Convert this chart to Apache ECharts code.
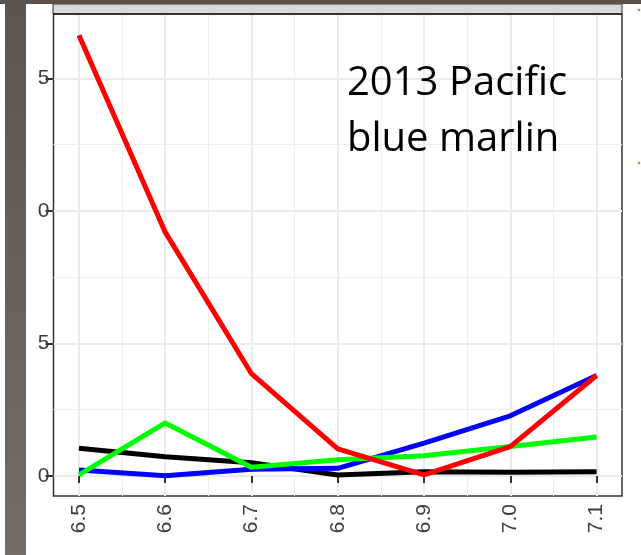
<!DOCTYPE html>
<html>
<head>
<meta charset="utf-8">
<script src="https://cdn.jsdelivr.net/npm/echarts@6/dist/echarts.min.js"></script>
<style>
html,body{margin:0;padding:0;background:#fff;}
#chart{width:641px;height:555px;}
</style>
</head>
<body>
<div id="chart"></div>
<script>
// ---- data ----
const xValues = [6.5, 6.6, 6.7, 6.8, 6.9, 7.0, 7.1];
const xTickLabels = ['6.5', '6.6', '6.7', '6.8', '6.9', '7.0', '7.1'];
const xMinorTicks = [6.55, 6.65, 6.75, 6.85, 6.95, 7.05];
const yTicks = [0, 5, 10, 15];
const yTickLabels = ['0', '5', '0', '5'];   // visible (cropped) tick text
const yMinorTicks = [2.5, 7.5, 12.5];
const seriesBlack = [1.05, 0.73, 0.50, 0.04, 0.16, 0.14, 0.16];
const seriesBlue  = [0.23, 0.01, 0.25, 0.29, 1.24, 2.27, 3.79];
const seriesGreen = [0.04, 2.00, 0.33, 0.61, 0.76, 1.11, 1.47];
const seriesRed   = [16.63, 9.20, 3.86, 1.02, 0.04, 1.11, 3.79];
const titleLines = ['2013 Pacific', 'blue marlin'];

const chart = echarts.init(document.getElementById('chart'));
const pair = arr => xValues.map((x, i) => [x, arr[i]]);
const X_MIN = 6.4705, X_MAX = 7.1295, Y_MIN = -0.755, Y_MAX = 17.43;
const labelFont = {fontFamily: 'Liberation Sans', fontSize: 21, color: '#3d3d3d'};

function line(name, data, color) {
  return {
    name, type: 'line', data: pair(data), xAxisIndex: 0, yAxisIndex: 0,
    symbol: 'none', lineStyle: {color, width: 5, join: 'round'}, z: 5
  };
}

chart.setOption({
  animation: false,
  grid: {left: 53.5, right: 19, top: 14, bottom: 59, show: true,
         borderColor: '#333333', borderWidth: 1.5, backgroundColor: '#fff'},
  xAxis: [{
    type: 'value', min: X_MIN, max: X_MAX,
    axisLine: {show: false},
    axisTick: {show: true, length: 7, lineStyle: {color: '#333', width: 2}, customValues: xValues},
    axisLabel: {...labelFont, rotate: 90, margin: 8, customValues: xValues,
                formatter: v => xTickLabels[xValues.findIndex(x => Math.abs(x - v) < 1e-6)] || ''},
    splitLine: {show: true, lineStyle: {color: '#ebebeb', width: 2}}
  }, {
    type: 'value', min: X_MIN, max: X_MAX, position: 'bottom',
    axisLine: {show: false},
    axisTick: {show: false, customValues: xMinorTicks},
    axisLabel: {show: false, customValues: xMinorTicks},
    splitLine: {show: true, lineStyle: {color: '#eeeeee', width: 1}}
  }],
  yAxis: [{
    type: 'value', min: Y_MIN, max: Y_MAX,
    axisLine: {show: false},
    axisTick: {show: true, length: 8, lineStyle: {color: '#333', width: 2}, customValues: yTicks},
    axisLabel: {...labelFont, margin: 4, customValues: yTicks,
                formatter: v => yTickLabels[yTicks.findIndex(t => Math.abs(t - v) < 1e-6)] || ''},
    splitLine: {show: true, lineStyle: {color: '#ebebeb', width: 2}}
  }, {
    type: 'value', min: Y_MIN, max: Y_MAX, position: 'left',
    axisLine: {show: false},
    axisTick: {show: false, customValues: yMinorTicks},
    axisLabel: {show: false, customValues: yMinorTicks},
    splitLine: {show: true, lineStyle: {color: '#eeeeee', width: 1}}
  }],
  series: [
    line('black', seriesBlack, '#000000'),
    line('blue', seriesBlue, '#0000ff'),
    line('green', seriesGreen, '#00ff00'),
    line('red', seriesRed, '#ff0000')
  ],
  graphic: [
    {type: 'rect', shape: {x: 53, y: 4, width: 569, height: 10}, style: {fill: '#d9d9d9', stroke: '#333', lineWidth: 1}, z: 10},
    {type: 'rect', shape: {x: 53, y: 13, width: 569, height: 2}, style: {fill: '#333'}, z: 11},
    {type: 'rect', shape: {x: 0, y: 0, width: 641, height: 4}, style: {fill: '#57524c'}, z: 12},
    {type: 'rect', shape: {x: 5, y: 0, width: 21, height: 555},
     style: {fill: new echarts.graphic.LinearGradient(0, 0, 0, 1, [{offset: 0, color: '#5a554f'}, {offset: 1, color: '#726d66'}])}, z: 12},
    {type: 'circle', shape: {cx: 639, cy: 10, r: 1.3}, style: {fill: '#c8823c'}, z: 12},
    {type: 'circle', shape: {cx: 639, cy: 163, r: 1.3}, style: {fill: '#c8823c'}, z: 12},
    {type: 'text', left: 347, top: 56, z: 20,
     style: {text: titleLines.join('\n'), font: '40px "Open Sans"', fill: '#000', lineHeight: 56}}
  ]
});
</script>
</body>
</html>
